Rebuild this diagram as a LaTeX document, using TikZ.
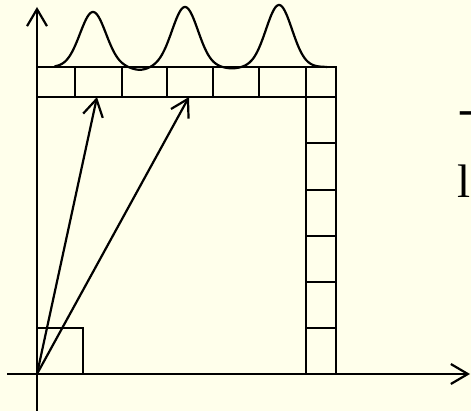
\documentclass[tikz,border=0pt]{standalone}
\usepackage{fontspec}
\setmainfont{Liberation Serif}
\usepackage{tikz}
\usetikzlibrary{arrows.meta}
\definecolor{papel}{RGB}{255,255,235}

\begin{document}
\begin{tikzpicture}[x=1pt,y=-1pt,line width=2.2pt,
  flecha/.style={-{Straight Barb[length=17pt,width=20pt]}},
  letra/.style={anchor=base west,inner sep=0pt,font=\fontsize{47}{47}\selectfont}]
\useasboundingbox[fill=papel] (0,0) rectangle (471,411);
\coordinate (O) at (37,374);
\coordinate (ybaja) at (37,411);
\coordinate (yalta) at (37,7);
\coordinate (xizq) at (7,374);
\coordinate (xder) at (470,374);
% ejes
\draw[flecha] (ybaja) -- (yalta);
\draw[flecha] (xizq) -- (xder);
% fila de celdas arriba
\draw (37,67) rectangle (336,97);
\foreach \x in {75,122,167,213,259,306} \draw (\x,67) -- (\x,97);
% columna de la derecha
\draw (306,97) -- (306,374) (336,97) -- (336,374);
\foreach \y in {143,190,236,282,328} \draw (306,\y) -- (336,\y);
% celda del origen
\draw (37,328) -| (83,374);
% vectores
\coordinate (p1) at (97,97);
\coordinate (p2) at (189,97);
\draw[flecha] (O) -- (p1);
\draw[flecha] (O) -- (p2);
% picos
\draw[line cap=round] plot[domain=55:327,samples=220,smooth] (\x,{67
  -55*exp(-(((\x-93)/13)^2)/2)
  -60*exp(-(((\x-185)/13)^2)/2)
  -62*exp(-(((\x-279)/13)^2)/2)
  +3*exp(-(((\x-140)/9)^2)/2)
  +1.5*exp(-(((\x-232)/9)^2)/2)});
% texto cortado a la derecha
\node[letra] (guion) at (457,125) {-};
\node[letra] (ele) at (456,198) {l};
\end{tikzpicture}
\end{document}
